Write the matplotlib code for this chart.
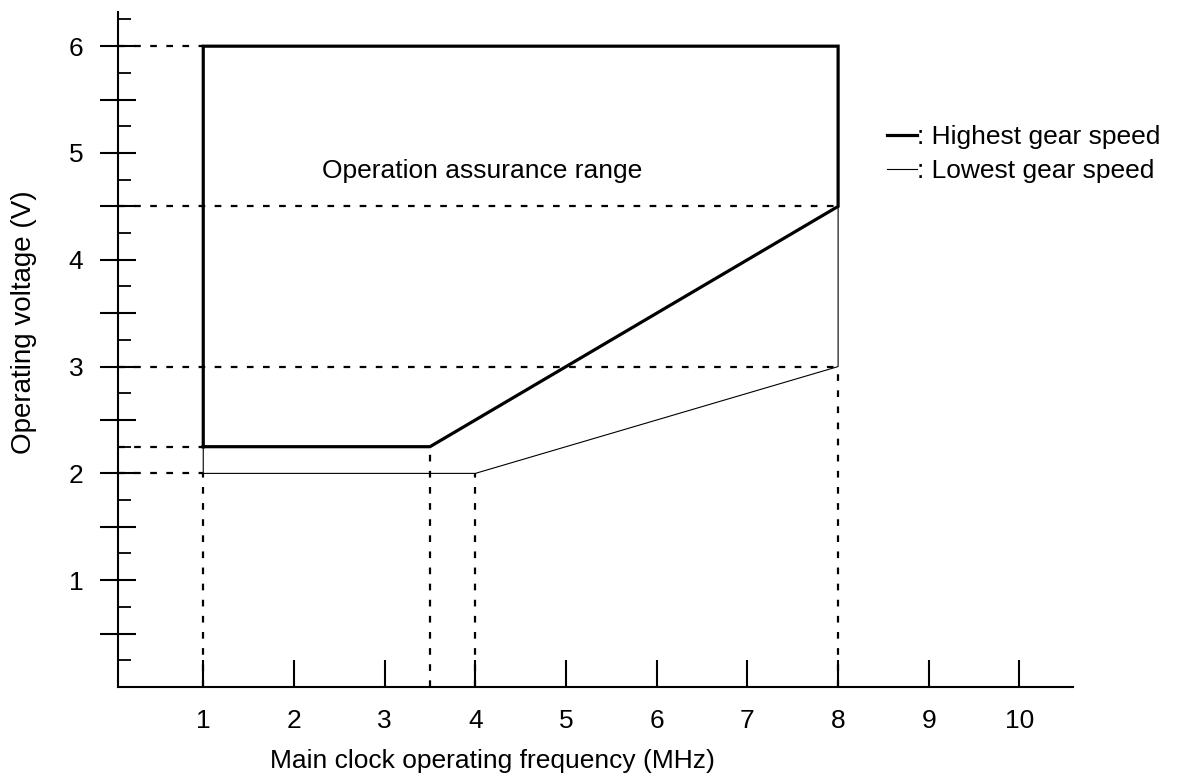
import matplotlib
matplotlib.use("Agg")
import matplotlib.pyplot as plt
from matplotlib.ticker import FixedLocator, FuncFormatter

plt.rcParams['font.family'] = ['Liberation Sans', 'DejaVu Sans']
plt.rcParams['lines.scale_dashes'] = False

# operating range outline at highest gear speed (thick)
hi_freq = [1, 1, 8, 8, 3.5, 1]
hi_volt = [2.25, 6, 6, 4.5, 2.25, 2.25]
# outline at lowest gear speed (thin)
lo_freq = [1, 1, 4, 8, 8]
lo_volt = [2.25, 2, 2, 3, 4.5]

# dotted guides: (voltage, frequency where guide ends)
h_guides = [(6, 1), (4.5, 8), (3, 8), (2.25, 1), (2, 1)]
# vertical guides: (frequency, voltage where guide starts)
v_guides = [(1, 2), (3.5, 2.25), (4, 2), (8, 3)]

x_ticks = [1, 2, 3, 4, 5, 6, 7, 8, 9, 10]
y_major = [0.5, 1, 1.5, 2, 2.5, 3, 3.5, 4, 4.5, 5, 5.5, 6]
y_minor = [0.25, 0.75, 1.25, 1.75, 2.25, 2.75, 3.25, 3.75, 4.25, 4.75, 5.25, 5.75, 6.25]

fs = 19
fig = plt.figure(figsize=(11.8, 7.75), dpi=100)
ax = fig.add_axes([118 / 1180, 88 / 775, (1073 - 118) / 1180, (687 - 12) / 775])
ax.set_xlim(0.06, 10.59)
ax.set_ylim(0, 6.32)

dash = (0, (4.8, 6.8))
for v, f in h_guides:
    ax.plot([0.06, f], [v, v], color='black', lw=1.6, linestyle=dash)
for f, v in v_guides:
    ax.plot([f, f], [0, v], color='black', lw=1.6, linestyle=dash)

ax.plot(lo_freq, lo_volt, color='black', lw=0.8, label=': Lowest gear speed')
ax.plot(hi_freq, hi_volt, color='black', lw=2.3, solid_joinstyle='miter',
        solid_capstyle='projecting', label=': Highest gear speed')

ax.text(4.08, 4.83, 'Operation assurance range', ha='center', va='center', fontsize=fs)

for s in ['top', 'right']:
    ax.spines[s].set_visible(False)
for s in ['left', 'bottom']:
    ax.spines[s].set_linewidth(1.5)

ax.xaxis.set_major_locator(FixedLocator(x_ticks))
ax.tick_params(axis='x', which='major', direction='in', length=19.5, width=1.5,
               pad=16, labelsize=fs)
ax.yaxis.set_major_locator(FixedLocator(y_major))
ax.yaxis.set_minor_locator(FixedLocator(y_minor))
ax.yaxis.set_major_formatter(FuncFormatter(lambda v, p: '%d' % v if v == int(v) else ''))
ax.tick_params(axis='y', which='major', direction='inout', length=26, width=1.5,
               pad=12, labelsize=fs)
ax.tick_params(axis='y', which='minor', direction='in', length=9.5, width=1.3)

fig.text(492 / 1180, 1 - 761 / 775, 'Main clock operating frequency (MHz)',
         ha='center', va='center', fontsize=fs)
fig.text(24 / 1180, 1 - 322 / 775, 'Operating voltage (V)', rotation=90,
         ha='center', va='center', fontsize=20)

handles, labels = ax.get_legend_handles_labels()
ax.legend(handles[::-1], labels[::-1], loc='upper left', bbox_to_anchor=(887 / 1180, 1 - 125 / 775),
          bbox_transform=fig.transFigure, frameon=False, fontsize=fs,
          handlelength=1.14, handletextpad=0, borderpad=0, borderaxespad=0,
          labelspacing=0.38)

fig.savefig('out.png', dpi=100)
